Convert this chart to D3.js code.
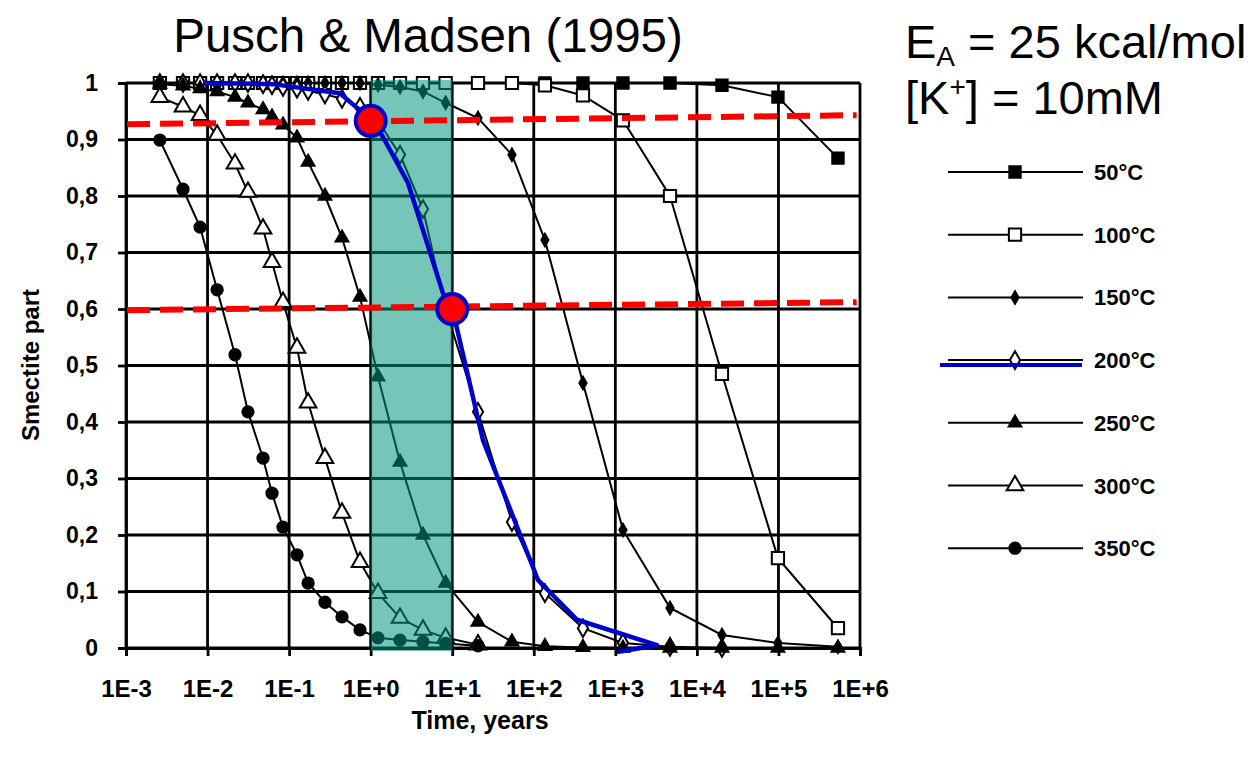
<!DOCTYPE html>
<html>
<head>
<meta charset="utf-8">
<script src="https://cdn.jsdelivr.net/npm/d3@7"></script>
<style>
  body { margin: 0; background: #fff; }
  svg { display: block; }
  text { font-family: "Liberation Sans", Arial, sans-serif; }
</style>
</head>
<body>
<svg id="chart" width="1259" height="761"></svg>
<script>
// --- données (Pusch & Madsen 1995) ---
const times = [0.0026, 0.005, 0.0081, 0.0131, 0.0217, 0.0313, 0.0479, 0.0617, 0.0841,
  0.125, 0.171, 0.275, 0.445, 0.74, 1.23, 2.29, 4.38, 8.3, 20.7, 54, 137, 401,
  1240, 4680, 20300, 98600, 537000];

const temps = ["50°C", "100°C", "150°C", "200°C", "250°C", "300°C", "350°C"];

const s50  = [1, 1, 1, 1, 1, 1, 1, 1, 1, 1, 1, 1, 1, 1, 1, 1, 1, 1, 1, 1, 1, 1, 1, 1, 0.996, 0.975, 0.867];
const s100 = [1, 1, 1, 1, 1, 1, 1, 1, 1, 1, 1, 1, 1, 1, 1, 1, 1, 1, 1, 1, 0.996, 0.978, 0.934, 0.80, 0.485, 0.159, 0.035];
const s150 = [1, 1, 1, 1, 1, 1, 1, 1, 1, 1, 1, 1, 1, 1, 0.997, 0.993, 0.985, 0.965, 0.938, 0.873, 0.722, 0.469, 0.209, 0.071, 0.023, 0.009, 0.002];
const s200 = [1, 1, 1, 1, 1, 1, 0.998, 0.996, 0.993, 0.99, 0.986, 0.98, 0.972, 0.958, 0.933, 0.873, 0.777, 0.6, 0.418, 0.223, 0.097, 0.035, 0.009, 0.002, 0, null, null];
const s250 = [0.998, 0.995, 0.99, 0.985, 0.975, 0.965, 0.953, 0.94, 0.926, 0.903, 0.86, 0.80, 0.726, 0.621, 0.48, 0.329, 0.2, 0.115, 0.046, 0.011, 0.003, 0.001, 0, 0, 0, 0, 0];
const s300 = [0.975, 0.958, 0.943, 0.908, 0.857, 0.807, 0.742, 0.683, 0.612, 0.531, 0.434, 0.336, 0.239, 0.152, 0.097, 0.053, 0.032, 0.018, 0.006, null, null, null, null, null, null, null, null];
const s350 = [0.899, 0.812, 0.745, 0.634, 0.519, 0.418, 0.336, 0.274, 0.214, 0.165, 0.115, 0.081, 0.055, 0.032, 0.018, 0.014, 0.011, 0.008, 0.004, null, null, null, null, null, null, null, null];

// courbe bleue tracée à la main (200°C) et annotations
const blueTimes  = [0.0088, 0.0634, 0.42, 0.68, 1.07, 1.42, 2.87, 7.7, 9.9, 13.2, 23.8, 113, 339, 3240, 1047];
const blueValues = [1, 0.998, 0.982, 0.956, 0.933, 0.904, 0.823, 0.628, 0.604, 0.527, 0.368, 0.12, 0.05, 0.005, -0.007];
const dashTimes  = [0.00103, 910000];
const dashHigh   = [0.927, 0.943];
const dashLow    = [0.598, 0.612];
const dotTimes   = [1, 10];
const dotValues  = [0.933, 0.6];
const bandTimes  = [1, 10];

const xTicks = [1e-3, 1e-2, 1e-1, 1e0, 1e1, 1e2, 1e3, 1e4, 1e5, 1e6];
const yTicks = [0, 0.1, 0.2, 0.3, 0.4, 0.5, 0.6, 0.7, 0.8, 0.9, 1];

// --- mise en page ---
const svg = d3.select("#chart");
const x = d3.scaleLog().domain([1e-3, 1e6]).range([126, 860]);
const y = d3.scaleLinear().domain([0, 1]).range([648, 83]);

const markers = [
  { type: d3.symbolSquare,   size: 130, fill: "#000" },
  { type: d3.symbolSquare,   size: 150, fill: "#fff" },
  { type: d3.symbolDiamond,  size: 45,  fill: "#000" },
  { type: d3.symbolDiamond,  size: 90,  fill: "#fff" },
  { type: d3.symbolTriangle, size: 70,  fill: "#000" },
  { type: d3.symbolTriangle, size: 120, fill: "#fff" },
  { type: d3.symbolCircle,   size: 100, fill: "#000" }
];
const allValues = [s50, s100, s150, s200, s250, s300, s350];
const series = temps.map((t, i) => ({
  label: t,
  marker: markers[i],
  points: times.map((tt, j) => ({ t: tt, v: allValues[i][j] })).filter(d => d.v !== null)
}));

// grille
svg.append("g")
  .selectAll("line")
  .data(yTicks)
  .join("line")
    .attr("x1", x(1e-3)).attr("x2", x(1e6))
    .attr("y1", d => y(d)).attr("y2", d => y(d))
    .attr("stroke", "#000").attr("stroke-width", 2.8);

svg.append("g")
  .selectAll("line")
  .data(xTicks)
  .join("line")
    .attr("x1", d => x(d)).attr("x2", d => x(d))
    .attr("y1", y(0)).attr("y2", y(1))
    .attr("stroke", "#000").attr("stroke-width", 2.8);

// axes
const fmtX = d => {
  const e = Math.round(Math.log10(d));
  return "1E" + (e < 0 ? "-" : "+") + Math.abs(e);
};
const fmtY = d => (d === 0 || d === 1) ? String(d) : d.toFixed(1).replace(".", ",");

const gx = svg.append("g")
  .attr("transform", `translate(0,${y(0)})`)
  .call(d3.axisBottom(x).tickValues(xTicks).tickFormat(fmtX).tickSize(8).tickPadding(24));
const gy = svg.append("g")
  .attr("transform", `translate(${x(1e-3)},0)`)
  .call(d3.axisLeft(y).tickValues(yTicks).tickFormat(fmtY).tickSize(8).tickPadding(20));

[gx, gy].forEach((g, k) => {
  g.select(".domain").attr("stroke-width", 2.8);
  g.selectAll(".tick line").attr("stroke-width", 2.8);
  g.selectAll(".tick text")
    .style("font-size", k === 0 ? "24px" : "23px")
    .style("font-family", "'Liberation Sans', Arial, sans-serif")
    .style("font-weight", "bold")
    .attr("fill", "#000");
});

// courbes
const line = d3.line().x(d => x(d.t)).y(d => y(d.v));
series.forEach(s => {
  svg.append("path")
    .datum(s.points)
    .attr("d", line)
    .attr("fill", "none")
    .attr("stroke", "#000")
    .attr("stroke-width", 2);
  svg.append("g")
    .selectAll("path")
    .data(s.points)
    .join("path")
      .attr("transform", d => `translate(${x(d.t)},${y(d.v)})`)
      .attr("d", d3.symbol().type(s.marker.type).size(s.marker.size))
      .attr("fill", s.marker.fill)
      .attr("stroke", "#000")
      .attr("stroke-width", 2);
});

// bande verte
svg.append("rect")
  .attr("x", x(bandTimes[0]))
  .attr("y", y(1) - 3)
  .attr("width", x(bandTimes[1]) - x(bandTimes[0]))
  .attr("height", y(0) - y(1) + 6)
  .attr("fill", "rgb(0,149,125)")
  .attr("fill-opacity", 0.54);

// lignes rouges en tirets
[dashHigh, dashLow].forEach(vals => {
  svg.append("line")
    .attr("x1", x(dashTimes[0])).attr("y1", y(vals[0]))
    .attr("x2", x(dashTimes[1])).attr("y2", y(vals[1]))
    .attr("stroke", "#ff0000")
    .attr("stroke-width", 6)
    .attr("stroke-dasharray", "23,10");
});

// courbe bleue
svg.append("path")
  .datum(blueTimes.map((t, i) => ({ t: t, v: blueValues[i] })))
  .attr("d", line)
  .attr("fill", "none")
  .attr("stroke", "#0000cc")
  .attr("stroke-width", 4.5)
  .attr("stroke-linejoin", "round");

// points rouges
svg.append("g")
  .selectAll("circle")
  .data(dotTimes)
  .join("circle")
    .attr("cx", d => x(d))
    .attr("cy", (d, i) => y(dotValues[i]))
    .attr("r", 15)
    .attr("fill", "#ff0000")
    .attr("stroke", "#0000cc")
    .attr("stroke-width", 4);

// titres des axes
svg.append("text")
  .attr("x", 480).attr("y", 729)
  .attr("text-anchor", "middle")
  .style("font-size", "25px").style("font-weight", "bold")
  .text("Time, years");

svg.append("text")
  .attr("transform", "translate(39,365) rotate(-90)")
  .attr("text-anchor", "middle")
  .style("font-size", "24px").style("font-weight", "bold")
  .text("Smectite part");

// titre et paramètres
svg.append("text")
  .attr("x", 428).attr("y", 52)
  .attr("text-anchor", "middle")
  .style("font-size", "47.5px")
  .text("Pusch & Madsen (1995)");

const ea = svg.append("text").attr("x", 905).attr("y", 58).style("font-size", "47px");
ea.append("tspan").text("E");
ea.append("tspan").attr("dy", 8).style("font-size", "28px").text("A");
ea.append("tspan").attr("dy", -8).text(" = 25 kcal/mol");

const kp = svg.append("text").attr("x", 905).attr("y", 114).style("font-size", "47px");
kp.append("tspan").text("[K");
kp.append("tspan").attr("dy", -18).style("font-size", "28px").text("+");
kp.append("tspan").attr("dy", 18).text("] = 10mM");

// légende
const legend = svg.append("g");
series.forEach((s, i) => {
  const ly = 172 + i * 62.7;
  const g = legend.append("g").attr("transform", `translate(0,${ly})`);
  g.append("line")
    .attr("x1", 948).attr("x2", 1083)
    .attr("stroke", "#000").attr("stroke-width", 2);
  g.append("path")
    .attr("transform", "translate(1015,0)")
    .attr("d", d3.symbol().type(s.marker.type).size(s.marker.size))
    .attr("fill", s.marker.fill)
    .attr("stroke", "#000")
    .attr("stroke-width", 2);
  g.append("text")
    .attr("x", 1094).attr("y", 8)
    .style("font-size", "22px").style("font-weight", "bold")
    .text(s.label);
  if (s.label === "200°C") {
    g.append("line")
      .attr("x1", 940).attr("x2", 1082)
      .attr("y1", 5).attr("y2", 5)
      .attr("stroke", "#0000cc").attr("stroke-width", 4);
  }
});
</script>
</body>
</html>
